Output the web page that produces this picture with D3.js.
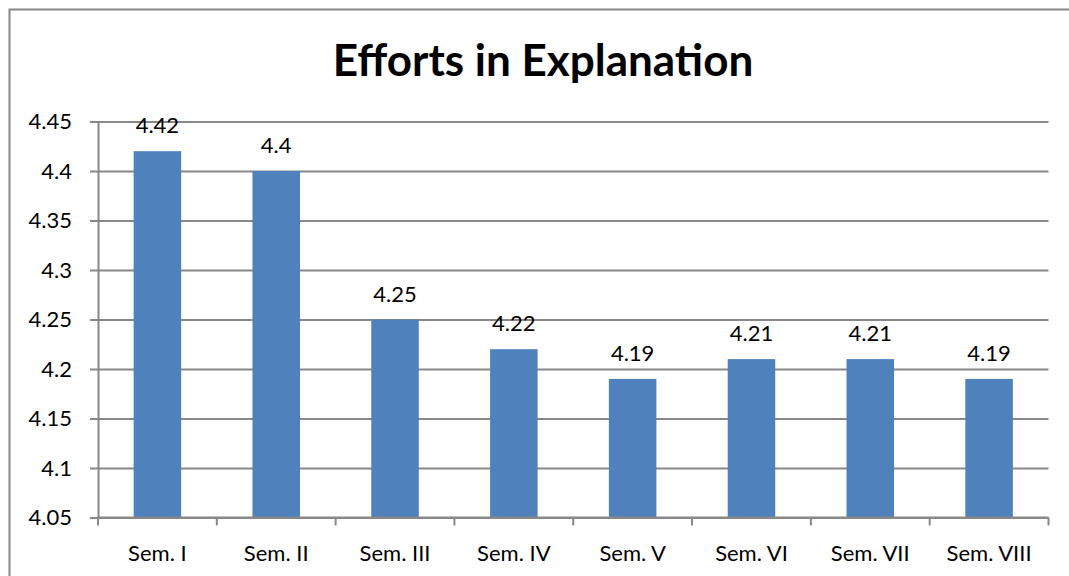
<!DOCTYPE html>
<html>
<head>
<meta charset="utf-8">
<script src="https://cdn.jsdelivr.net/npm/d3@7"></script>
<style>
  body { margin: 0; background: #fff; }
  svg { display: block; font-family: Lato, "Open Sans", sans-serif; }
</style>
</head>
<body>
<svg id="chart" width="1069" height="576"></svg>
<script>
const SEMESTERS = ["Sem. I", "Sem. II", "Sem. III", "Sem. IV", "Sem. V", "Sem. VI", "Sem. VII", "Sem. VIII"];
const SCORES = [4.42, 4.4, 4.25, 4.22, 4.19, 4.21, 4.21, 4.19];
const Y_TICKS = [4.05, 4.1, 4.15, 4.2, 4.25, 4.3, 4.35, 4.4, 4.45];
const TITLE = "Efforts in Explanation";

const svg = d3.select("#chart");
const margin = { left: 98, right: 1048.5, top: 121.5, bottom: 517.5 };

// outer chart border (left and top only visible)
svg.append("path")
    .attr("d", "M9.5,576 V9.5 H1069")
    .attr("fill", "none")
    .attr("stroke", "#888")
    .attr("stroke-width", 2);

svg.append("text")
    .attr("x", 543)
    .attr("y", 76)
    .attr("text-anchor", "middle")
    .attr("font-weight", "bold")
    .attr("font-size", "44px")
    .text(TITLE);

const x = d3.scaleBand()
    .domain(SEMESTERS)
    .range([margin.left, margin.right])
    .paddingInner(0.6)
    .paddingOuter(0.3);

const y = d3.scaleLinear()
    .domain([4.05, 4.45])
    .range([margin.bottom, margin.top]);

// gridlines + y axis
const yAxis = d3.axisLeft(y)
    .tickValues(Y_TICKS)
    .tickFormat(d3.format("~g"))
    .tickSize(-(margin.right - margin.left))
    .tickSizeOuter(0)
    .tickPadding(26);

const yg = svg.append("g")
    .attr("transform", `translate(${margin.left},0)`)
    .call(yAxis);
yg.select(".domain").attr("stroke", "#888").attr("stroke-width", 2);
yg.selectAll(".tick line")
    .attr("x1", -8)
    .attr("stroke", "#888")
    .attr("stroke-width", 2);
yg.selectAll(".tick text")
    .attr("font-size", "22px")
    .attr("fill", "#000")
    .attr("font-family", "Lato, sans-serif");

// bars
svg.append("g").selectAll("rect")
    .data(SCORES)
    .enter()
    .append("rect")
    .attr("x", (d, i) => x(SEMESTERS[i]))
    .attr("y", d => y(d))
    .attr("width", x.bandwidth())
    .attr("height", d => y(4.05) - y(d))
    .attr("fill", "#4F81BD");

// x axis
const step = (margin.right - margin.left) / SEMESTERS.length;
const xg = svg.append("g");
xg.append("line")
    .attr("x1", margin.left).attr("x2", margin.right)
    .attr("y1", margin.bottom).attr("y2", margin.bottom)
    .attr("stroke", "#888").attr("stroke-width", 2);
xg.selectAll(".xtick")
    .data(d3.range(SEMESTERS.length + 1))
    .enter()
    .append("line")
    .attr("x1", i => margin.left + i * step)
    .attr("x2", i => margin.left + i * step)
    .attr("y1", margin.bottom)
    .attr("y2", margin.bottom + 8)
    .attr("stroke", "#888").attr("stroke-width", 2);
xg.selectAll("text")
    .data(SEMESTERS)
    .enter()
    .append("text")
    .attr("x", d => x(d) + x.bandwidth() / 2)
    .attr("y", 561)
    .attr("text-anchor", "middle")
    .attr("font-size", "22px")
    .text(d => d);

// data labels
svg.append("g").selectAll("text")
    .data(SCORES)
    .enter()
    .append("text")
    .attr("x", (d, i) => x(SEMESTERS[i]) + x.bandwidth() / 2)
    .attr("y", d => y(d) - 18)
    .attr("text-anchor", "middle")
    .attr("font-size", "22px")
    .text(d => d);
</script>
</body>
</html>
